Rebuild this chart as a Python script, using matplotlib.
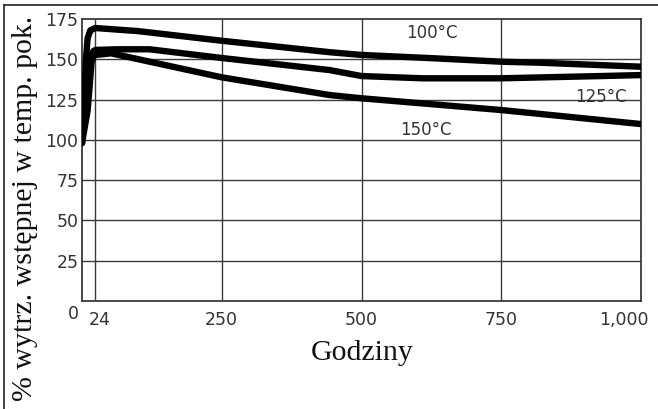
import matplotlib
matplotlib.use("Agg")
import matplotlib.pyplot as plt
import matplotlib.transforms as mtransforms
from matplotlib.lines import Line2D

# dane (godziny, % wytrzymalosci)
hours_100 = [0, 3, 7, 10, 15, 24, 100, 250, 443, 500, 631, 750, 817, 1000]
vals_100 = [98, 120, 150, 163, 168, 169.4, 167.5, 161.5, 154.4, 152.7, 150.6, 148.5, 147.9, 145.4]

hours_125 = [0, 6, 11, 15, 20, 24, 62, 121, 250, 443, 500, 609, 750, 929, 1000]
vals_125 = [98, 120, 140, 151, 155, 155.8, 156.2, 156.2, 150.8, 143.3, 139.6, 138.2, 138.2, 139.6, 140.2]

hours_150 = [0, 10, 14, 17, 20, 24, 52, 250, 443, 500, 750, 1000]
vals_150 = [98, 118, 135, 148, 152, 152.7, 153.7, 138.8, 127.8, 125.8, 118.5, 109.8]

curve_labels = ["100°C", "125°C", "150°C"]
label_pos = [(626, 166.3), (928, 126.6), (615, 106)]

x_ticks = [24, 250, 500, 750, 1000]
x_ticklabels = ["24", "250", "500", "750", "1,000"]
y_ticks = [0, 25, 50, 75, 100, 125, 150, 175]

W, H = 658, 409
fig = plt.figure(figsize=(W / 100, H / 100), dpi=100)
ax = fig.add_axes([82 / W, 1 - 301 / H, (641 - 82) / W, (301 - 19) / H])
ax.set_xlim(0, 1000)
ax.set_ylim(0, 175)

grid_col = "#3a3a3a"
for s in ax.spines.values():
    s.set_color(grid_col)
    s.set_linewidth(1.3)

ax.set_xticks(x_ticks)
ax.set_xticklabels(x_ticklabels)
ax.set_yticks(y_ticks)
ax.tick_params(length=0, labelsize=12.5, labelcolor="#333333")
ax.tick_params(axis="x", pad=7.5)
ax.tick_params(axis="y", pad=2.5)

for t in ax.get_xticklabels() + ax.get_yticklabels():
    t.set_family("DejaVu Sans")

# przesuniecia etykiet jak w oryginale
dpi_tr = fig.dpi_scale_trans
xl = ax.get_xticklabels()
xl[0].set_transform(xl[0].get_transform() + mtransforms.ScaledTranslation(4 / 100, 0, dpi_tr))
xl[-1].set_transform(xl[-1].get_transform() + mtransforms.ScaledTranslation(-17 / 100, 0, dpi_tr))
yl = ax.get_yticklabels()
yl[0].set_transform(yl[0].get_transform() + mtransforms.ScaledTranslation(0, -11 / 100, dpi_tr))

for xv in x_ticks[:-1]:
    ax.axvline(xv, color=grid_col, lw=1.0, zorder=1)
for yv in y_ticks[1:-1]:
    ax.axhline(yv, color=grid_col, lw=1.0, zorder=1)

for hx, vy in [(hours_100, vals_100), (hours_125, vals_125), (hours_150, vals_150)]:
    ax.plot(hx, vy, color="black", lw=4.6, solid_capstyle="round",
            solid_joinstyle="round", zorder=3)

for lab, (lx, ly) in zip(curve_labels, label_pos):
    ax.text(lx, ly, lab, ha="center", va="center", fontsize=12,
            family="DejaVu Sans", color="#333333", zorder=4)

fig.text(362 / W, 1 - 360 / H, "Godziny", ha="center", va="baseline",
         fontsize=21.5, family="Liberation Serif", color="#111111")
fig.text(25 / W, 1 - 208 / H, "% wytrz. wstępnej w temp. pok.", rotation=90,
         ha="center", va="center", fontsize=21.5, family="Liberation Serif",
         color="#111111")

# ramka obrazka
fig.add_artist(Line2D([4 / W, 1], [1 - 5 / H, 1 - 5 / H], transform=fig.transFigure,
                      color="#222222", lw=1.2))
fig.add_artist(Line2D([4 / W, 4 / W], [0, 1 - 5 / H], transform=fig.transFigure,
                      color="#222222", lw=1.2))

fig.savefig("out.png", dpi=100)
